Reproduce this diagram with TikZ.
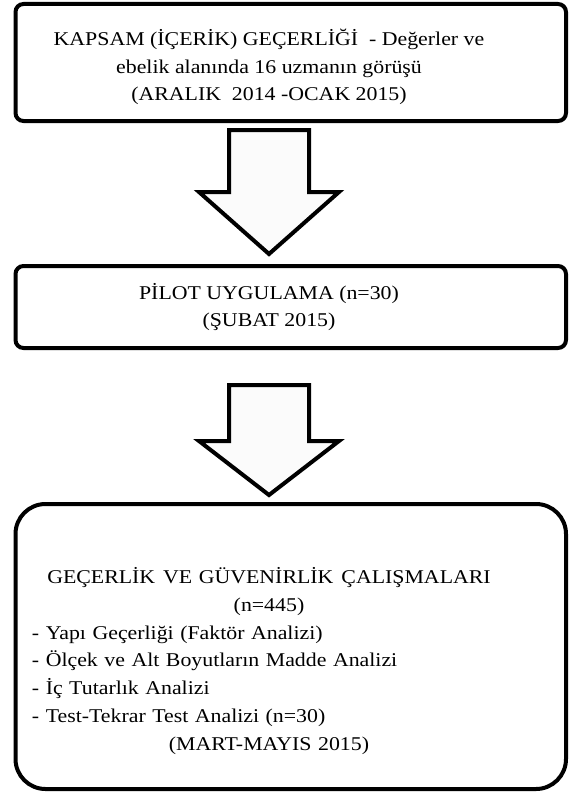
\documentclass[tikz,border=0pt]{standalone}
\usepackage{fontspec}
\setmainfont{Liberation Serif}
\newfontfamily\boxFont[FakeStretch=1.12]{Liberation Serif}
\newcommand{\listLine}[1]{\makebox[474pt][l]{#1}}
\begin{document}
\begin{tikzpicture}[x=1pt,y=-1pt]
        \tikzstyle{stepBox}=[draw, line width=4pt, rounded corners=8pt, inner sep=0pt, minimum width=550.5pt]
        \tikzstyle{boxText}=[align=center, inner sep=0pt, font=\boxFont\fontsize{19.5}{27.8}\selectfont]
        \tikzstyle{blockArrow}=[draw, line width=4pt, fill=gray!3, line join=miter]
    \useasboundingbox (0,0) rectangle (569,792);

    \node[stepBox, minimum height=117pt] (kapsam) at (290.75, 62.5) {};
    \node[stepBox, minimum height=82pt] (pilot) at (290.75, 307) {};
    \node[stepBox, minimum height=285pt, rounded corners=30pt] (gecerlik) at (290.75, 646.5) {};

    \node[boxText] (kapsamText) at (269, 67) {KAPSAM (İÇERİK) GEÇERLİĞİ\ \ - Değerler ve\\ ebelik alanında 16 uzmanın görüşü\\ (ARALIK\ \ 2014 -OCAK 2015)};
    \node[boxText] (pilotText) at (269, 307) {PİLOT UYGULAMA (n=30)\\ (ŞUBAT 2015)};
    \node[boxText, text width=474pt] (gecerlikText) at (269, 661) {GEÇERLİK\hspace{1.5pt} VE GÜVENİRLİK\hspace{1.5pt} ÇALIŞMALARI\\ (n=445)\\
        \listLine{- Yapı Geçerliği (Faktör Analizi)}\\
        \listLine{- Ölçek ve Alt Boyutların Madde Analizi}\\
        \listLine{- İç Tutarlık Analizi}\\
        \listLine{- Test-Tekrar Test Analizi (n=30)}\\
        (MART-MAYIS 2015)};

    % block arrows between the boxes
    \coordinate (arrowA) at (269, 130);
    \coordinate (arrowB) at (269, 385);
    \draw[blockArrow] (arrowA) +(-40,0) -- +(40,0) -- +(40,62) -- +(70,62) -- +(0,124) -- +(-70,62) -- +(-40,62) -- cycle;
    \draw[blockArrow] (arrowB) +(-40,0) -- +(40,0) -- +(40,56) -- +(70,56) -- +(0,110) -- +(-70,56) -- +(-40,56) -- cycle;
\end{tikzpicture}
\end{document}
